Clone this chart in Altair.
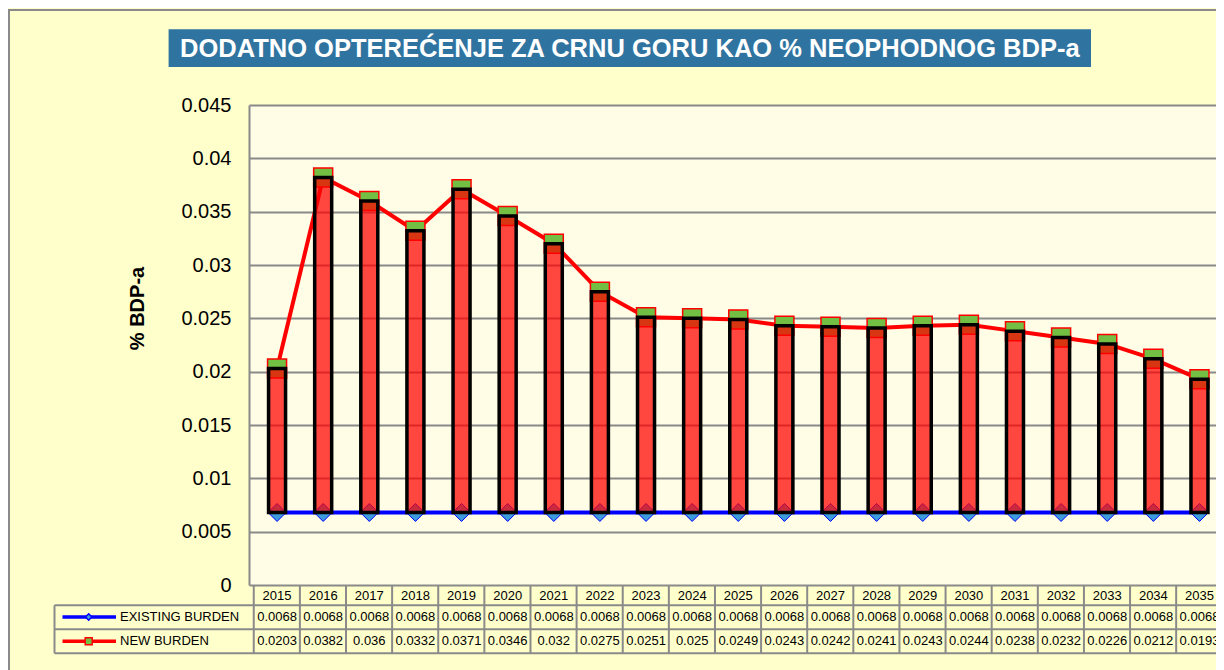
import altair as alt
import pandas as pd

years = [2015, 2016, 2017, 2018, 2019, 2020, 2021, 2022, 2023, 2024, 2025,
         2026, 2027, 2028, 2029, 2030, 2031, 2032, 2033, 2034, 2035]
existing_burden = [0.0068, 0.0068, 0.0068, 0.0068, 0.0068, 0.0068, 0.0068, 0.0068, 0.0068, 0.0068, 0.0068,
                   0.0068, 0.0068, 0.0068, 0.0068, 0.0068, 0.0068, 0.0068, 0.0068, 0.0068, 0.0068]
new_burden = [0.0203, 0.0382, 0.036, 0.0332, 0.0371, 0.0346, 0.032, 0.0275, 0.0251, 0.025, 0.0249,
              0.0243, 0.0242, 0.0241, 0.0243, 0.0244, 0.0238, 0.0232, 0.0226, 0.0212, 0.0193]
existing_labels = ["0.0068", "0.0068", "0.0068", "0.0068", "0.0068", "0.0068", "0.0068",
                   "0.0068", "0.0068", "0.0068", "0.0068", "0.0068", "0.0068", "0.0068",
                   "0.0068", "0.0068", "0.0068", "0.0068", "0.0068", "0.0068", "0.0068"]
new_labels = ["0.0203", "0.0382", "0.036", "0.0332", "0.0371", "0.0346", "0.032", "0.0275", "0.0251", "0.025",
              "0.0249", "0.0243", "0.0242", "0.0241", "0.0243", "0.0244", "0.0238", "0.0232", "0.0226",
              "0.0212", "0.0193"]
y_ticks = [0, 0.005, 0.01, 0.015, 0.02, 0.025, 0.03, 0.035, 0.04, 0.045]

title_text = "DODATNO OPTEREĆENJE ZA CRNU GORU KAO % NEOPHODNOG BDP-a"
y_title = "% BDP-a"
legend_existing = "EXISTING BURDEN"
legend_new = "NEW BURDEN"

df = pd.DataFrame({
    "yr": years,
    "year_label": [str(y) for y in years],
    "existing": existing_burden,
    "new": new_burden,
    "existing_label": existing_labels,
    "new_label": new_labels,
})
one = pd.DataFrame({"k": [0]})

FONT = "Liberation Sans"
GRID = "#8A8A8A"
W, H = 967, 480
STEP = 46.6

X = alt.X("yr:Q", scale=alt.Scale(domain=[2014.5, 2035.25], nice=False, zero=False), axis=None)
yscale = alt.Scale(domain=[0, 0.045], nice=False, zero=True)
yaxis = alt.Axis(values=y_ticks, format="~g", labelFontSize=20, labelColor="#000000", labelPadding=18,
                 ticks=False, domain=True, domainColor=GRID, domainWidth=2,
                 grid=True, gridColor=GRID, gridWidth=2, gridOpacity=1,
                 titleFontSize=20, titleFontWeight="bold", titleColor="#000000",
                 titleX=-112, titleY=203, titleAngle=270, titleAlign="center", titleBaseline="middle")


def Y(field):
    return alt.Y(field, scale=yscale, axis=yaxis, title=y_title)


base = alt.Chart(df)

red_line = base.mark_line(color="#FF0000", strokeWidth=4).encode(x=X, y=Y("new:Q"))
blue_line = base.mark_line(color="#0000FF", strokeWidth=4).encode(x=X, y=Y("existing:Q"))
diamonds = base.mark_point(shape="diamond", size=324, filled=True, fill="#3D9CDB", stroke="#0000FF",
                           strokeWidth=1, opacity=1).encode(x=X, y=Y("existing:Q"))
squares = base.mark_point(shape="square", size=361, filled=True, fill="#72BF44", stroke="#FF0000",
                          strokeWidth=1.5, opacity=1).encode(x=X, y=Y("new:Q"))
bars = base.mark_bar(width=17, fill="#FF0000", fillOpacity=0.72, stroke="#000000", strokeWidth=3.5).encode(
    x=X, y=Y("existing:Q"), y2="new:Q")

# data table
col_sep = base.mark_rule(color=GRID, strokeWidth=2, xOffset=-STEP / 2).encode(
    x=X, y=alt.value(480), y2=alt.value(548.3))
year_text = base.mark_text(font=FONT, fontSize=13, color="#000000", baseline="middle", align="center").encode(
    x=X, y=alt.value(490.5), text="year_label:N")
exist_text = base.mark_text(font=FONT, fontSize=13, color="#000000", baseline="middle", align="center").encode(
    x=X, y=alt.value(512), text="existing_label:N")
new_text = base.mark_text(font=FONT, fontSize=13, color="#000000", baseline="middle", align="center").encode(
    x=X, y=alt.value(536.3), text="new_label:N")

deco = alt.Chart(one)
hlines = [deco.mark_rule(color=GRID, strokeWidth=2).encode(
    x=alt.value(-194.5), x2=alt.value(W), y=alt.value(yy)) for yy in (500.3, 524.3, 548.3)]
legend_left = deco.mark_rule(color=GRID, strokeWidth=2).encode(
    x=alt.value(-194.5), y=alt.value(500.3), y2=alt.value(548.3))
leg_blue = deco.mark_rule(color="#0000FF", strokeWidth=3.5).encode(
    x=alt.value(-186.5), x2=alt.value(-133), y=alt.value(512))
leg_red = deco.mark_rule(color="#FF0000", strokeWidth=3.5).encode(
    x=alt.value(-186.5), x2=alt.value(-133), y=alt.value(536.3))
leg_diamond = deco.mark_point(shape="diamond", size=40, filled=True, fill="#3D9CDB", stroke="#0000FF",
                              strokeWidth=1.5, opacity=1).encode(x=alt.value(-160.3), y=alt.value(512))
leg_square = deco.mark_point(shape="square", size=49, filled=True, fill="#72BF44", stroke="#FF0000",
                             strokeWidth=1.5, opacity=1).encode(x=alt.value(-160.3), y=alt.value(536.3))
leg_text1 = deco.mark_text(text=legend_existing, font=FONT, fontSize=13, align="left", baseline="middle",
                           color="#000000").encode(x=alt.value(-129), y=alt.value(512))
leg_text2 = deco.mark_text(text=legend_new, font=FONT, fontSize=13, align="left", baseline="middle",
                           color="#000000").encode(x=alt.value(-129), y=alt.value(536.3))

# chart area frame
frame_left = deco.mark_rule(color=GRID, strokeWidth=2).encode(
    x=alt.value(-240), y=alt.value(-95), y2=alt.value(570))
frame_top = deco.mark_rule(color=GRID, strokeWidth=2).encode(
    x=alt.value(-241), x2=alt.value(W + 10), y=alt.value(-95))

# title box
title_box = deco.mark_rect(fill="#2F74A0").encode(
    x=alt.value(-80.4), x2=alt.value(842), y=alt.value(-75.7), y2=alt.value(-38))
title_lbl = deco.mark_text(text=title_text, font=FONT, fontSize=25.5, fontWeight="bold", color="#FFFFFF",
                           align="center", baseline="middle").encode(x=alt.value(380.8), y=alt.value(-56.3))

chart = alt.layer(
    red_line, blue_line, diamonds, squares, bars,
    col_sep, year_text, exist_text, new_text,
    *hlines, legend_left, leg_blue, leg_red, leg_diamond, leg_square, leg_text1, leg_text2,
    frame_left, frame_top, title_box, title_lbl,
).properties(
    width=W, height=H,
    padding={"left": 241, "top": 97, "right": 0, "bottom": 85},
    autosize=alt.AutoSizeParams(type="none"),
    background="#FFFFCC",
).configure(
    font=FONT,
).configure_view(
    fill="#FFFDE6", strokeWidth=0,
)

chart.save("out.html", embed_options={"renderer": "svg", "actions": False})
